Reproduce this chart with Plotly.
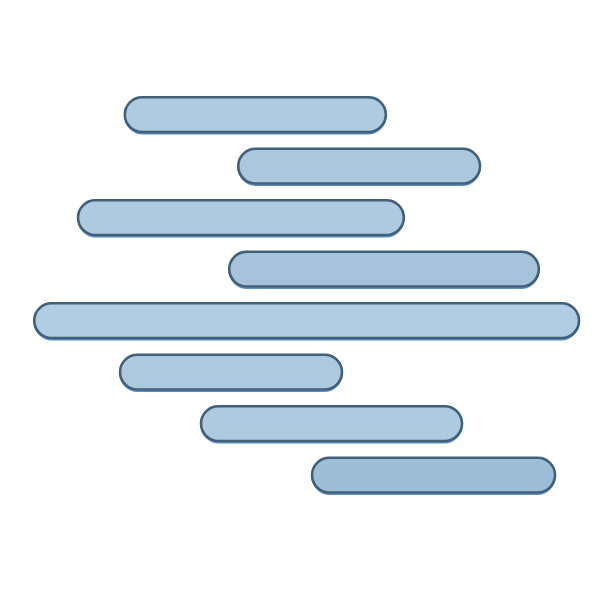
import plotly.graph_objects as go

# floating bars: start / end per row (arbitrary units, 0-100)
rows = ["A", "B", "C", "D", "E", "F", "G", "H"]
starts = [20.8, 39.7, 13.0, 38.2, 5.7, 20.0, 33.5, 52.0]
ends = [64.3, 80.0, 67.3, 89.8, 96.5, 57.0, 77.0, 92.5]

lengths = [e - s for s, e in zip(starts, ends)]
mids = [(s + e) / 2 for s, e in zip(starts, ends)]

scale = [[0, "#98b9d4"], [0.5, "#b3cee4"], [1, "#84a8c4"]]

fig = go.Figure()

# bottom blue rim
fig.add_trace(go.Bar(
    y=rows, x=lengths, base=starts, orientation="h",
    width=0.70, offset=-0.35,
    marker=dict(color=mids, cmin=0, cmax=100, colorscale=scale,
                cornerradius="50%",
                line=dict(color="#5b8ec6", width=1.5)),
    hoverinfo="skip",
))
# main body with dark edge
fig.add_trace(go.Bar(
    y=rows, x=lengths, base=starts, orientation="h",
    width=0.675, offset=-0.36,
    marker=dict(color=mids, cmin=0, cmax=100, colorscale=scale,
                cornerradius="50%",
                line=dict(color="#42607a", width=2.6)),
    hoverinfo="skip",
))

fig.update_layout(
    width=600, height=600,
    barmode="overlay",
    margin=dict(l=0, r=0, t=82, b=106),
    paper_bgcolor="white",
    plot_bgcolor="white",
    showlegend=False,
    xaxis=dict(range=[1.33, 101.33], visible=False),
    yaxis=dict(autorange="reversed", visible=False),
)

fig.write_html("out.html")
